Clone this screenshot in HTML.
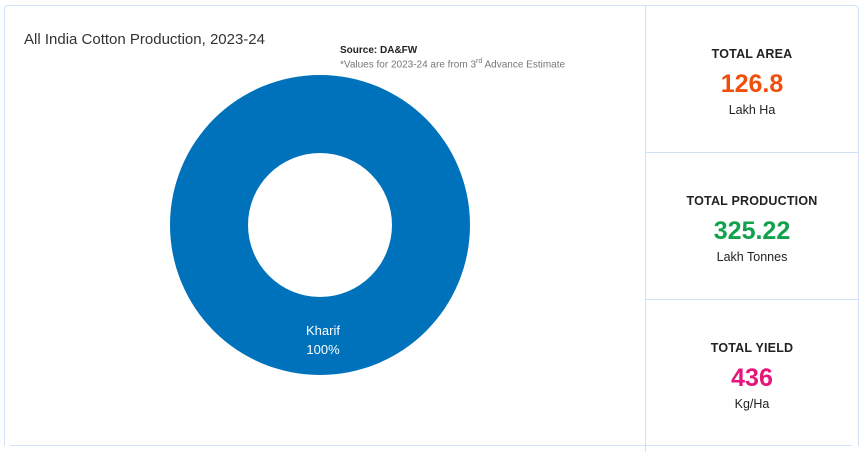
<!DOCTYPE html>
<html><head><meta charset="utf-8"><style>
body{margin:0;width:865px;height:452px;background:#fff;font-family:"Liberation Sans",sans-serif;position:relative;overflow:hidden}
.abs{position:absolute}
.card{text-align:center;width:212px;left:646px}
.h{font-size:12.5px;font-weight:bold;color:#222;letter-spacing:0.2px}
.v{font-size:25px;font-weight:bold;margin-top:10px;line-height:26px}
.u{font-size:12.5px;color:#222;margin-top:6px}
</style></head><body>
<div class="abs" style="left:4px;top:5px;width:853px;height:440px;border:1px solid #cfe3f5;border-bottom:none;border-radius:4px 4px 0 0"></div>
<div class="abs" style="left:10px;top:445px;width:842px;height:1px;background:#cfe3f5"></div>
<div class="abs" style="left:645px;top:5px;width:1px;height:447px;background:#cfe3f5"></div>
<div class="abs" style="left:645px;top:152px;width:213px;height:1px;background:#cfe3f5"></div>
<div class="abs" style="left:645px;top:299px;width:213px;height:1px;background:#cfe3f5"></div>
<div class="abs" style="left:24px;top:31px;font-size:15px;color:#333">All India Cotton Production, 2023-24</div>
<div class="abs" style="left:340px;top:45px;font-size:10px;font-weight:bold;color:#222">Source: DA&amp;FW</div>
<div class="abs" style="left:340px;top:58px;font-size:10px;color:#777">*Values for 2023-24 are from 3<sup style="font-size:7px">rd</sup> Advance Estimate</div>
<svg class="abs" style="left:0;top:0" width="645" height="452">
<g id="slices"></g>
</svg>
<div class="card abs" style="top:47px"><div class="h">TOTAL AREA</div><div class="v" style="color:#f04e0c">126.8</div><div class="u">Lakh Ha</div></div>
<div class="card abs" style="top:194px"><div class="h">TOTAL PRODUCTION</div><div class="v" style="color:#0fa24a">325.22</div><div class="u">Lakh Tonnes</div></div>
<div class="card abs" style="top:341px"><div class="h">TOTAL YIELD</div><div class="v" style="color:#e6157a">436</div><div class="u">Kg/Ha</div></div>
<script>
const categories=["Kharif"];
const values=[100];
const colors=["#0072bb"];
const cx=320,cy=225,R=150,r=72;
const g=document.getElementById('slices');
const ns="http://www.w3.org/2000/svg";
const total=values.reduce((a,b)=>a+b,0);
let a0=-Math.PI/2;
values.forEach((v,i)=>{
  const frac=v/total, a1=a0+frac*2*Math.PI;
  let el;
  if(frac>=0.9999){
    el=document.createElementNS(ns,'path');
    el.setAttribute('d',`M${cx-R},${cy}A${R},${R} 0 1 1 ${cx+R},${cy}A${R},${R} 0 1 1 ${cx-R},${cy}ZM${cx-r},${cy}A${r},${r} 0 1 0 ${cx+r},${cy}A${r},${r} 0 1 0 ${cx-r},${cy}Z`);
    el.setAttribute('fill-rule','evenodd');
  }else{
    const lg=frac>0.5?1:0;
    const p=(rad,a)=>[cx+rad*Math.cos(a),cy+rad*Math.sin(a)];
    const [x1,y1]=p(R,a0),[x2,y2]=p(R,a1),[x3,y3]=p(r,a1),[x4,y4]=p(r,a0);
    el=document.createElementNS(ns,'path');
    el.setAttribute('d',`M${x1},${y1}A${R},${R} 0 ${lg} 1 ${x2},${y2}L${x3},${y3}A${r},${r} 0 ${lg} 0 ${x4},${y4}Z`);
  }
  el.setAttribute('fill',colors[i%colors.length]);
  
  
  g.appendChild(el);
  const mid=frac>=0.9999?Math.PI/2:(a0+a1)/2;
  const lr=(R+r)/2+5;
  const lx=cx+lr*Math.cos(mid)+3, ly=cy+lr*Math.sin(mid);
  const t1=document.createElementNS(ns,'text');
  t1.setAttribute('x',lx);t1.setAttribute('y',ly-6);t1.setAttribute('text-anchor','middle');
  t1.setAttribute('fill','#fff');t1.setAttribute('font-size','13');
  t1.textContent=categories[i];
  
  
  g.appendChild(t1);
  const t2=document.createElementNS(ns,'text');
  t2.setAttribute('x',lx);t2.setAttribute('y',ly+13);t2.setAttribute('text-anchor','middle');
  t2.setAttribute('fill','#fff');t2.setAttribute('font-size','13');
  t2.textContent=Math.round(frac*100)+'%';
  
  
  g.appendChild(t2);
  a0=a1;
});
</script>
</body></html>
